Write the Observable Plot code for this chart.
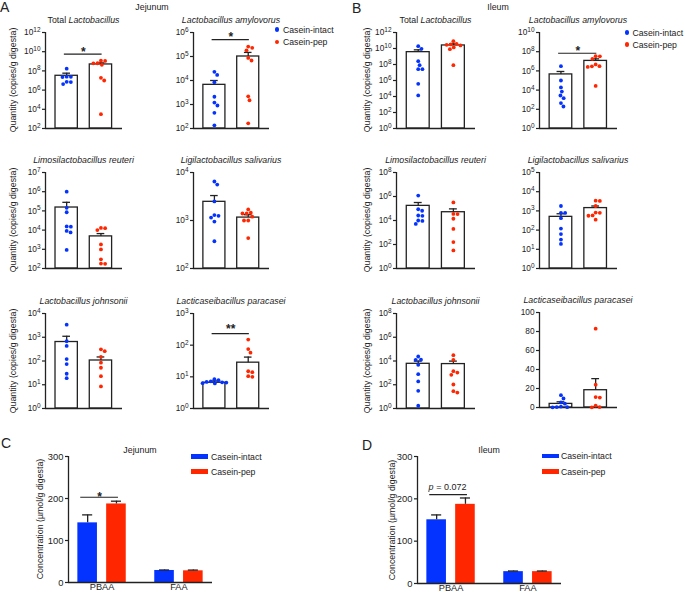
<!DOCTYPE html>
<html><head><meta charset="utf-8">
<script src="https://cdn.jsdelivr.net/npm/d3@7"></script>
<script src="https://cdn.jsdelivr.net/npm/@observablehq/plot@0.6"></script>
<style>
body{margin:0;background:#fff;}
#fig{position:relative;width:685px;height:592px;font-family:"Liberation Sans",Arial,Helvetica,sans-serif;color:#222;overflow:hidden;background:#fff;}
.abs{position:absolute;white-space:nowrap;line-height:1;}
.t{font-size:8.8px;transform:translate(-50%,-50%);}
.letter{font-size:14px;}
.ylab{font-size:8.8px;transform:translate(-50%,-50%) rotate(-90deg);}
.leg{font-size:8.7px;transform:translateY(-50%);}
svg{overflow:visible;}
</style></head><body><div id="fig"></div>
<script>
// ---------- DATA ----------
const groups = ["Casein-intact", "Casein-pep"];
const aaCats = ["PBAA", "FAA"];

// Panel A (Jejunum)
const jejTotal_intact = [1.7e8, 2.5e7, 2.3e7, 2.4e7, 4.2e6, 7.2e6, 6.8e6];
const jejTotal_pep = [1.1e9, 1.15e9, 4.3e8, 6.3e8, 6.1e8, 1.9e7, 1.0e7, 3.1e3];
const jejTotal_mean = [3.1e7, 4.7e8];
const jejTotal_sem = [2.7e7, 2.2e8];
const jejTotal_sig = 5.5e9;
const jejTotal_ticks = [1e2, 1e4, 1e6, 1e8, 1e10, 1e12];

const jejAmy_intact = [1.7e4, 2.3e4, 8.5e3, 2.1e3, 9.1e2, 1.2e3, 4.5e2, 1.35e2];
const jejAmy_pep = [2.3e5, 1.8e5, 2.6e5, 8.7e4, 6.8e4, 2.2e3, 1.5e3, 1.65e2];
const jejAmy_mean = [6.6e3, 1.0e5];
const jejAmy_sem = [3.4e3, 4.8e4];
const jejAmy_sig = 5e5;
const jejAmy_ticks = [1e2, 1e3, 1e4, 1e5, 1e6];

const jejReu_intact = [1.0e6, 1.45e5, 8.5e4, 1.55e4, 1.5e4, 9.1e3, 7.6e3, 9.3e2];
const jejReu_pep = [1.26e4, 1.0e4, 1.3e4, 1.8e3, 9.8e2, 3.0e2, 1.8e2, 1.75e2];
const jejReu_mean = [1.5e5, 4.7e3];
const jejReu_sem = [1.3e5, 1.9e3];
const jejReu_ticks = [1e2, 1e3, 1e4, 1e5, 1e6, 1e7];

const jejSal_intact = [5.6e3, 6.5e3, 2.5e3, 1.3e3, 1.25e3, 1.15e3, 9.5e2, 3.7e2];
const jejSal_pep = [1.4e3, 1.7e3, 1.4e3, 1.45e3, 1.0e3, 1.0e3, 1.2e3, 4.3e2];
const jejSal_mean = [2.45e3, 1.15e3];
const jejSal_sem = [8.6e2, 1.7e2];
const jejSal_ticks = [1e2, 1e3, 1e4];

const jejJoh_intact = [3.4e3, 6.8e2, 4.3e2, 1.2e2, 7.4e1, 2.9e1, 1.9e1];
const jejJoh_pep = [3.1e2, 2.6e2, 1.5e2, 8.5e1, 5.2e1, 2.3e1, 8.5];
const jejJoh_mean = [6.3e2, 1.05e2];
const jejJoh_sem = [4.7e2, 4.3e1];
const jejJoh_ticks = [1e0, 1e1, 1e2, 1e3, 1e4];

const jejPara_intact = [6.3, 6.6, 7.8, 6.9, 7.2, 8.4, 6.7, 6.2];
const jejPara_pep = [150, 75, 58, 15, 14, 10.5, 10];
const jejPara_mean = [6.5, 28];
const jejPara_sem = [0.9, 14];
const jejPara_sig = 230;
const jejPara_ticks = [1e0, 1e1, 1e2, 1e3];

// Panel B (Ileum)
const ileTotal_intact = [9.1e9, 1.95e10, 2.6e8, 8.3e7, 2.6e7, 2.6e7, 3.8e5, 1.35e4];
const ileTotal_pep = [3.8e10, 8.3e10, 2.9e10, 2.4e10, 8.3e9, 1.35e10, 3.2e10, 8.3e7];
const ileTotal_mean = [3.5e9, 2.4e10];
const ileTotal_sem = [3.3e9, 1.4e10];
const ileTotal_ticks = [1e0, 1e2, 1e4, 1e6, 1e8, 1e10, 1e12];

const ileAmy_intact = [3.1e6, 1.0e5, 1.9e4, 7.1e3, 1.45e3, 2.75e3, 4.4e2, 1.95e2];
const ileAmy_pep = [3.4e7, 3.3e7, 1.8e7, 4.7e6, 3.1e6, 3.0e6, 2.6e6, 2.75e4];
const ileAmy_mean = [4.3e5, 1.1e7];
const ileAmy_sem = [4.4e5, 7e6];
const ileAmy_sig = 6.9e7;
const ileAmy_ticks = [1e0, 1e2, 1e4, 1e6, 1e8, 1e10];

const ileReu_intact = [1.2e6, 6.5e4, 8.7e4, 2.45e4, 2.6e4, 1.0e4, 9.3e3, 5.2e3];
const ileReu_pep = [3.2e5, 3.5e4, 3.4e4, 1.4e4, 2.0e3, 1.6e2, 3.2e1];
const ileReu_mean = [1.66e5, 4.9e4];
const ileReu_sem = [1.5e5, 4.4e4];
const ileReu_ticks = [1e0, 1e2, 1e4, 1e6, 1e8];

const ileSal_intact = [1.8e3, 7.9e2, 7.8e2, 4.2e2, 1.2e2, 6.2e1, 3.2e1, 1.9e1];
const ileSal_pep = [3.3e3, 3.4e3, 1.8e3, 7.9e2, 8.2e2, 5.6e2, 5.8e2, 3.5e2];
const ileSal_mean = [4.9e2, 1.4e3];
const ileSal_sem = [2.2e2, 4e2];
const ileSal_ticks = [1e0, 1e1, 1e2, 1e3, 1e4, 1e5];

const ileJoh_intact = [2.4e4, 1.26e4, 1.3e4, 4.8e3, 7.8e2, 1.9e2, 3.1e1, 1.7];
const ileJoh_pep = [3.1e4, 1.26e4, 1.07e3, 1.4e3, 6.9e2, 1.05e2, 2.2e1, 2.9e1];
const ileJoh_mean = [5.8e3, 5.5e3];
const ileJoh_sem = [4.0e3, 4.3e3];
const ileJoh_ticks = [1e0, 1e2, 1e4, 1e6, 1e8];

const ilePara_intact = [13, 9.5, 5.5, 4, 1, 0.5, 0.3, 0.2];
const ilePara_pep = [83, 24, 11, 10.5, 2, 0.2, 0.5];
const ilePara_mean = [3.8, 18.2];
const ilePara_sem = [2.2, 12.2];
const ilePara_ticks = [0, 20, 40, 60, 80, 100];

// Panels C and D (concentration, µmol/g digesta), order [PBAA, FAA]
const jejAA_intact = [142, 28.6];
const jejAA_intactSem = [19, 1.2];
const jejAA_pep = [187, 27.8];
const jejAA_pepSem = [6.6, 1.8];
const jejAA_sig = 203;
const ileAA_intact = [150.5, 28];
const ileAA_intactSem = [11.5, 1.5];
const ileAA_pep = [187, 28];
const ileAA_pepSem = [15, 1.5];
const ileAA_sig = 210;
const aaTicks = [0, 100, 200, 300];

// ---------- DRAWING ----------
const BLUE = "#0433ff", RED = "#ff2600", INK = "#222";
const fig = document.getElementById("fig");
const SVGNS = "http://www.w3.org/2000/svg";

function html(content, x, y, cls) {
  const d = document.createElement("div");
  d.className = "abs " + cls;
  d.style.left = x + "px"; d.style.top = y + "px";
  d.innerHTML = content;
  fig.appendChild(d);
  return d;
}
function place(svg, left, top) {
  const w = document.createElement("div");
  w.className = "abs";
  w.style.left = left + "px"; w.style.top = top + "px";
  w.appendChild(svg);
  fig.appendChild(w);
}
function supify(svg) {
  svg.querySelectorAll("text").forEach(t => {
    const m = /^10\^(\d+)$/.exec(t.textContent);
    if (m) {
      t.textContent = "10";
      const s = document.createElementNS(SVGNS, "tspan");
      s.setAttribute("dy", "-0.5em");
      s.setAttribute("font-size", "0.78em");
      s.textContent = m[1];
      t.appendChild(s);
    }
  });
}
// beeswarm layout (pixel offsets) so dots do not overlap
function swarm(py, d) {
  const order = d3.range(py.length).sort((a, b) => py[a] - py[b]);
  const placed = [], out = new Array(py.length);
  for (const i of order) {
    const cands = [0];
    for (const p of placed) {
      const dy = py[i] - p.y;
      if (Math.abs(dy) < d) { const dx = Math.sqrt(d * d - dy * dy); cands.push(p.x + dx, p.x - dx); }
    }
    cands.sort((a, b) => Math.abs(a) - Math.abs(b));
    const x = cands.find(c => placed.every(p => (c - p.x) ** 2 + (py[i] - p.y) ** 2 >= d * d - 1e-6));
    placed.push({x, y: py[i]}); out[i] = x;
  }
  return out;
}

const ML = 40, MR = 6, MT = 10, MB = 6;
const CEN = [0.275, 0.72], HALF = 0.145, CAP = 0.05;
const baseStyle = {background: "none", overflow: "visible", fontFamily: "Liberation Sans, Arial, sans-serif", color: INK};

function dotPanel(p) {
  const [x0, x1] = p.xr, [y0, y1] = p.yr, fw = x1 - x0, fh = y1 - y0;
  const sc = (p.type === "log" ? d3.scaleLog() : d3.scaleLinear()).domain(p.domain).range([fh, 0]);
  const pts = [];
  [p.intact, p.pep].forEach((arr, g) => {
    const off = swarm(arr.map(v => sc(v)), 4.2);
    arr.forEach((v, i) => pts.push({g: groups[g], v, x: CEN[g] + off[i] / fw}));
  });
  const bars = groups.map((g, i) => ({g, c: CEN[i], mean: p.mean[i], sem: p.sem[i]}));
  const lo = p.domain[0];
  const marks = [
    Plot.rectY(bars, {x1: d => d.c - HALF, x2: d => d.c + HALF, y1: lo, y2: "mean", fill: "white", stroke: INK, strokeWidth: 1.3}),
    Plot.ruleX(bars, {x: "c", y1: "mean", y2: d => d.mean + d.sem, stroke: INK, strokeWidth: 1.3}),
    Plot.ruleY(bars, {y: d => d.mean + d.sem, x1: d => d.c - CAP, x2: d => d.c + CAP, stroke: INK, strokeWidth: 1.3}),
    Plot.ruleX([0], {stroke: INK, strokeWidth: 1.3}),
    Plot.ruleY([lo], {stroke: INK, strokeWidth: 1.3}),
    Plot.axisY(p.ticks, {tickSize: 3, tickPadding: 2, fontSize: 8.3, label: null, stroke: INK, strokeWidth: 1.2,
      tickFormat: p.type === "log" ? (d => "10^" + Math.round(Math.log10(d))) : d3.format("d")})
  ];
  if (p.sig != null) {
    const s = [{y: p.sig, x1: CEN[0] - 0.03, x2: CEN[1] + 0.015, t: p.sigText}];
    marks.push(
      Plot.ruleY(s, {y: "y", x1: "x1", x2: "x2", stroke: INK, strokeWidth: 1.2}),
      Plot.text(s, {x: d => (d.x1 + d.x2) / 2, y: "y", text: "t", dy: p.sigDy ?? -2.5, fontSize: 12, fontWeight: "bold", fill: INK})
    );
  }
  marks.push(Plot.dot(pts, {x: "x", y: "v", r: 1.9, fill: "g"}));
  const svg = Plot.plot({
    width: fw + ML + MR, height: fh + MT + MB,
    marginLeft: ML, marginRight: MR, marginTop: MT, marginBottom: MB,
    style: baseStyle,
    x: {domain: [0, 1], axis: null},
    y: {type: p.type, domain: p.domain},
    color: {domain: groups, range: [BLUE, RED]},
    marks
  });
  supify(svg);
  place(svg, x0 - ML, y0 - MT);
  html(p.title, (x0 + x1) / 2, y0 - 12, "t");
}

const panels = [
  {xr: [45, 122], yr: [32, 128], type: "log", domain: [1e2, 1e12], ticks: jejTotal_ticks, intact: jejTotal_intact, pep: jejTotal_pep, mean: jejTotal_mean, sem: jejTotal_sem, sig: jejTotal_sig, sigText: "*", title: "Total <i>Lactobacillus</i>"},
  {xr: [193, 269], yr: [32, 128], type: "log", domain: [1e2, 1e6], ticks: jejAmy_ticks, intact: jejAmy_intact, pep: jejAmy_pep, mean: jejAmy_mean, sem: jejAmy_sem, sig: jejAmy_sig, sigText: "*", title: "<i>Lactobacillus amylovorus</i>"},
  {xr: [45, 122], yr: [172, 268], type: "log", domain: [1e2, 1e7], ticks: jejReu_ticks, intact: jejReu_intact, pep: jejReu_pep, mean: jejReu_mean, sem: jejReu_sem, title: "<i>Limosilactobacillus reuteri</i>"},
  {xr: [193, 269], yr: [172, 268], type: "log", domain: [1e2, 1e4], ticks: jejSal_ticks, intact: jejSal_intact, pep: jejSal_pep, mean: jejSal_mean, sem: jejSal_sem, title: "<i>Ligilactobacillus salivarius</i>"},
  {xr: [45, 122], yr: [313, 408], type: "log", domain: [1e0, 1e4], ticks: jejJoh_ticks, intact: jejJoh_intact, pep: jejJoh_pep, mean: jejJoh_mean, sem: jejJoh_sem, title: "<i>Lactobacillus johnsonii</i>"},
  {xr: [193, 269], yr: [313, 408], type: "log", domain: [1e0, 1e3], ticks: jejPara_ticks, intact: jejPara_intact, pep: jejPara_pep, mean: jejPara_mean, sem: jejPara_sem, sig: jejPara_sig, sigText: "**", sigDy: -4.5, title: "<i>Lacticaseibacillus paracasei</i>"},
  {xr: [396, 475], yr: [32, 128], type: "log", domain: [1e0, 1e12], ticks: ileTotal_ticks, intact: ileTotal_intact, pep: ileTotal_pep, mean: ileTotal_mean, sem: ileTotal_sem, title: "Total <i>Lactobacillus</i>"},
  {xr: [539, 617], yr: [32, 128], type: "log", domain: [1e0, 1e10], ticks: ileAmy_ticks, intact: ileAmy_intact, pep: ileAmy_pep, mean: ileAmy_mean, sem: ileAmy_sem, sig: ileAmy_sig, sigText: "*", title: "<i>Lactobacillus amylovorus</i>"},
  {xr: [396, 475], yr: [172, 268], type: "log", domain: [1e0, 1e8], ticks: ileReu_ticks, intact: ileReu_intact, pep: ileReu_pep, mean: ileReu_mean, sem: ileReu_sem, title: "<i>Limosilactobacillus reuteri</i>"},
  {xr: [539, 617], yr: [172, 268], type: "log", domain: [1e0, 1e5], ticks: ileSal_ticks, intact: ileSal_intact, pep: ileSal_pep, mean: ileSal_mean, sem: ileSal_sem, title: "<i>Ligilactobacillus salivarius</i>"},
  {xr: [396, 475], yr: [313, 408], type: "log", domain: [1e0, 1e8], ticks: ileJoh_ticks, intact: ileJoh_intact, pep: ileJoh_pep, mean: ileJoh_mean, sem: ileJoh_sem, title: "<i>Lactobacillus johnsonii</i>"},
  {xr: [539, 617], yr: [312, 407], type: "linear", domain: [0, 100], ticks: ilePara_ticks, intact: ilePara_intact, pep: ilePara_pep, mean: ilePara_mean, sem: ilePara_sem, title: "<i>Lacticaseibacillus paracasei</i>"}
];
panels.forEach(dotPanel);

// Amino-acid panels C and D
const CC = [0.233, 0.767], GO = 0.1, BH = 0.068;
function aaPanel(p) {
  const [x0, x1] = p.xr, [y0, y1] = p.yr, fw = x1 - x0, fh = y1 - y0;
  const MBc = 14;
  const bars = [];
  aaCats.forEach((c, ci) => groups.forEach((g, gi) => bars.push({
    g, c: CC[ci] + (gi ? GO : -GO), mean: (gi ? p.pep : p.intact)[ci], sem: (gi ? p.pepSem : p.intactSem)[ci]
  })));
  const s = [{y: p.sig, x1: CC[0] - GO - 0.048, x2: CC[0] + GO + 0.014}];
  const mid = (s[0].x1 + s[0].x2) / 2;
  const marks = [
    Plot.rectY(bars, {x1: d => d.c - BH, x2: d => d.c + BH, y1: 0, y2: "mean", fill: "g"}),
    Plot.ruleX(bars, {x: "c", y1: "mean", y2: d => d.mean + d.sem, stroke: INK, strokeWidth: 1.3}),
    Plot.ruleY(bars, {y: d => d.mean + d.sem, x1: d => d.c - 0.035, x2: d => d.c + 0.035, stroke: INK, strokeWidth: 1.3}),
    Plot.ruleX([0], {stroke: INK, strokeWidth: 1.3}),
    Plot.ruleY([0], {stroke: INK, strokeWidth: 1.3}),
    Plot.axisY(aaTicks, {tickSize: 3, tickPadding: 2, fontSize: 9.4, label: null, stroke: INK, strokeWidth: 1.2}),
    Plot.axisX(CC, {tickSize: 0, tickPadding: 1, fontSize: 9.2, label: null, tickFormat: d => aaCats[CC.indexOf(d)]}),
    Plot.ruleY(s, {y: "y", x1: "x1", x2: "x2", stroke: INK, strokeWidth: 1.2})
  ];
  if (p.pText) {
    marks.push(
      Plot.text(s, {x: mid - 0.104, y: "y", text: () => "p", textAnchor: "end", fontStyle: "italic", fontSize: 9, dy: -7, fill: INK}),
      Plot.text(s, {x: mid - 0.104, y: "y", text: () => "\u00a0= 0.072", textAnchor: "start", fontSize: 9, dy: -7, fill: INK})
    );
  } else {
    marks.push(Plot.text(s, {x: mid, y: "y", text: () => "*", fontSize: 12, fontWeight: "bold", dy: -0.5, fill: INK}));
  }
  const svg = Plot.plot({
    width: fw + ML + MR, height: fh + MT + MBc,
    marginLeft: ML, marginRight: MR, marginTop: MT, marginBottom: MBc,
    style: baseStyle,
    x: {domain: [0, 1]},
    y: {domain: [0, 300]},
    color: {domain: groups, range: [BLUE, RED]},
    marks
  });
  place(svg, x0 - ML, y0 - MT);
}
aaPanel({xr: [68, 212], yr: [456, 582], intact: jejAA_intact, intactSem: jejAA_intactSem, pep: jejAA_pep, pepSem: jejAA_pepSem, sig: jejAA_sig});
aaPanel({xr: [417, 561], yr: [456, 583], intact: ileAA_intact, intactSem: ileAA_intactSem, pep: ileAA_pep, pepSem: ileAA_pepSem, sig: ileAA_sig, pText: true});

// ---------- TEXT, LABELS, LEGENDS ----------
html("A", 0, 0, "letter");
html("B", 352, 1, "letter");
html("C", 1, 436, "letter");
html("D", 362, 438, "letter");
html("Jejunum", 152, 7, "t");
html("Ileum", 498, 7, "t");
html("Jejunum", 140, 450, "t");
html("Ileum", 489, 450, "t");

const qLab = "Quantity (copies/g digesta)";
[80, 220, 360.5].forEach(cy => { html(qLab, 13, cy, "ylab"); html(qLab, 367, cy, "ylab"); });
html("Concentration (µmol/g digesta)", 40, 519, "ylab");
html("Concentration (µmol/g digesta)", 392, 519.5, "ylab");

function dotLegend(cx, cys, tx) {
  groups.forEach((g, i) => {
    const c = html("", cx - 2.2, cys[i] - 2.2, "");
    c.style.width = "4.4px"; c.style.height = "4.4px"; c.style.borderRadius = "50%";
    c.style.background = i ? RED : BLUE;
    html(g, tx, cys[i], "leg");
  });
}
dotLegend(277, [29.5, 42], 283);
dotLegend(627, [32.5, 44.5], 632.5);

function barLegend(sx, sw, cys, tx) {
  groups.forEach((g, i) => {
    const r = html("", sx, cys[i] - 2.2, "");
    r.style.width = sw + "px"; r.style.height = "4.4px";
    r.style.background = i ? RED : BLUE;
    html(g, tx, cys[i], "leg");
  });
}
barLegend(191, 17, [456.5, 471.5], 211);
barLegend(542, 16.5, [456, 471.5], 561);
</script></body></html>
